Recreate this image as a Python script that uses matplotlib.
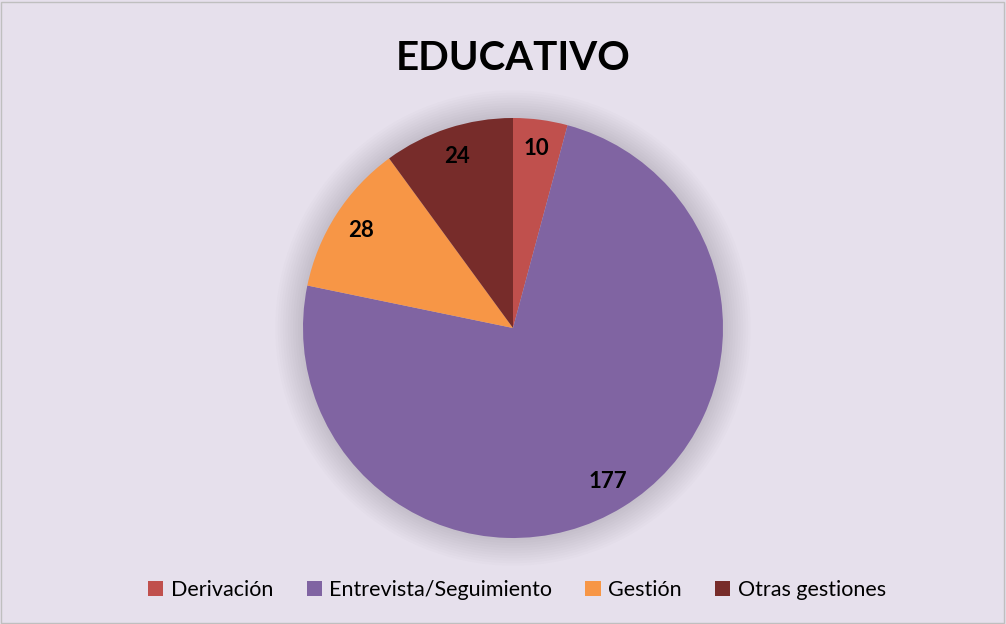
import matplotlib
matplotlib.use("Agg")
import matplotlib.pyplot as plt
from matplotlib.patches import Circle, Rectangle

# data
categories = ["Derivación", "Entrevista/Seguimiento", "Gestión", "Otras gestiones"]
values = [10, 177, 28, 24]
colors = ["#C0504D", "#8064A2", "#F79646", "#772C2A"]
title = "EDUCATIVO"

plt.rcParams['font.family'] = ['Lato', 'DejaVu Sans']

W, H = 1006, 624
fig = plt.figure(figsize=(W / 100, H / 100), dpi=100)
fig.patch.set_facecolor("#E6E0EC")

# thin gray frame round the chart area
fig.patches.append(Rectangle((1 / W, 1 / H), 1 - 3 / W, 1 - 3 / H, transform=fig.transFigure,
                             fill=False, edgecolor="#BFBFBF", linewidth=1))

# square axes holding the pie, centre (513, 328), radius 210 px
cx, cy, r = 513, 328, 210
ax = fig.add_axes([(cx - r) / W, (H - cy - r) / H, 2 * r / W, 2 * r / H])
ax.axis("off")

# soft shadow behind the pie
for i in range(12):
    ax.add_patch(Circle((0, 0), 1.0 + 0.012 * i, facecolor="#6b6378", alpha=0.025,
                        edgecolor="none", zorder=0, clip_on=False))

wedges, texts, autotexts = ax.pie(
    values, colors=colors, startangle=90, counterclock=False, radius=1,
    autopct=lambda p: "%d" % round(p * sum(values) / 100.0), pctdistance=0.86,
    wedgeprops=dict(linewidth=0), frame=False)
for w in wedges:
    w.set_zorder(2)
for t in autotexts:
    t.set_fontsize(16)
    t.set_fontweight("bold")
    t.set_color("black")
ax.set_xlim(-1, 1)
ax.set_ylim(-1, 1)
ax.set_aspect("auto")

fig.text(513 / W, 1 - 58 / H, title, ha="center", va="center",
         fontsize=29, fontweight="bold", color="black")

leg = fig.legend(wedges, categories, loc="center", bbox_to_anchor=(517 / W, 1 - 590 / H),
                 ncol=4, frameon=False, fontsize=15.5, handlelength=0.7, handleheight=0.7,
                 handletextpad=0.35, columnspacing=1.55)

fig.savefig("out.png", dpi=100, facecolor=fig.get_facecolor())
